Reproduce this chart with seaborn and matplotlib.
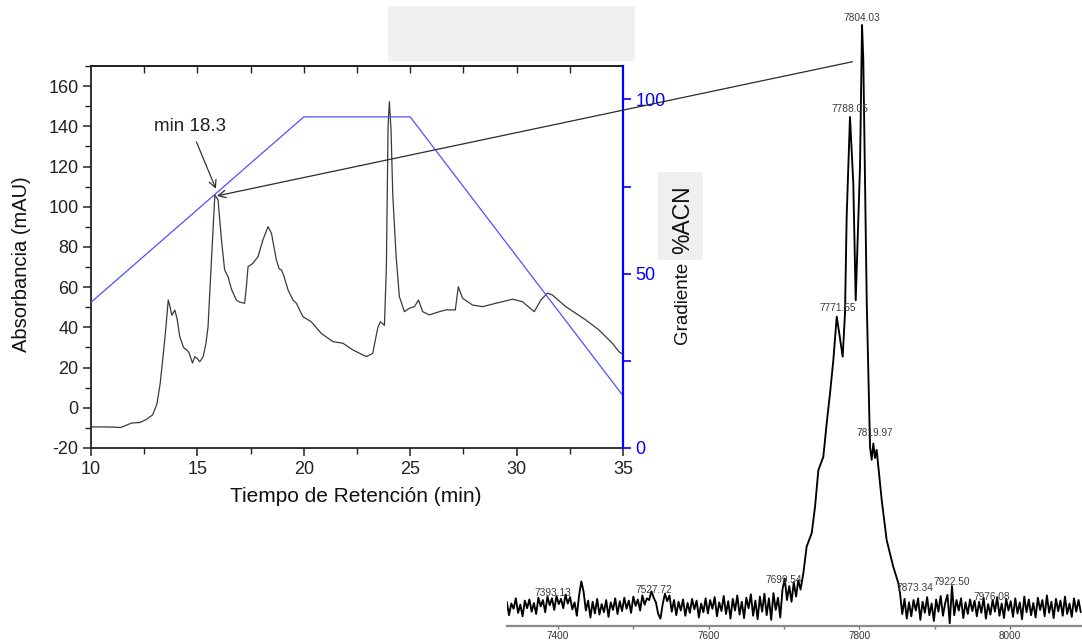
import numpy as np
import pandas as pd
import matplotlib
matplotlib.use("Agg")
import matplotlib.pyplot as plt
import seaborn as sns
from matplotlib.patches import Rectangle
from matplotlib.ticker import MultipleLocator, FixedLocator

# ---------------- Chromatogram (absorbance vs retention time) ----------------
time_min = [10.0, 10.5, 11.0, 11.4, 11.7, 11.9, 12.3, 12.6, 12.9, 13.1, 13.25, 13.4, 13.52,
            13.63, 13.72, 13.8, 13.94, 14.05, 14.17, 14.35, 14.49, 14.6, 14.77, 14.88, 15.0,
            15.11, 15.27, 15.4, 15.5, 15.66, 15.82, 15.97, 16.13, 16.28, 16.44, 16.6, 16.83,
            17.0, 17.22, 17.3, 17.38, 17.5, 17.61, 17.85, 18.08, 18.32, 18.48, 18.71, 18.85,
            18.95, 19.05, 19.26, 19.49, 19.65, 19.96, 20.35, 20.82, 21.37, 21.84, 22.3, 22.77,
            22.95, 23.24, 23.48, 23.6, 23.79, 23.88, 23.96, 24.02, 24.1, 24.18, 24.34, 24.49,
            24.73, 24.96, 25.2, 25.39, 25.59, 25.9, 26.37, 26.68, 27.12, 27.26, 27.46, 27.93,
            28.4, 29.03, 29.81, 30.27, 30.83, 31.14, 31.45, 31.68, 32.31, 33.25, 33.87, 34.5,
            34.81, 35.0]
absorbance = [-9.5, -9.5, -9.6, -9.8, -8.5, -7.6, -7.3, -5.8, -3.5, 2.0, 12.0, 27.0, 40.0,
              53.6, 50.0, 46.0, 48.6, 44.0, 35.4, 30.0, 28.8, 27.5, 22.3, 25.4, 24.5,
              22.9, 25.4, 32.0, 40.3, 73.5, 105.9, 103.4, 83.5, 68.6, 65.2, 59.0, 53.6,
              52.5, 52.0, 60.0, 70.2, 71.0, 71.9, 75.2, 83.5, 90.1, 86.8, 73.5, 69.0,
              68.6, 66.0, 58.6, 53.6, 52.0, 45.3, 42.8, 37.0, 32.9, 32.1, 28.8, 26.3,
              25.5, 27.1, 40.0, 42.8, 41.0, 70.0, 140.0, 152.3, 138.0, 106.0, 75.0, 55.3,
              47.8, 49.5, 50.3, 53.6, 47.8, 46.2, 47.8, 48.7, 48.7, 60.2, 54.5, 51.1,
              50.3, 52.0, 54.0, 52.8, 47.8, 53.6, 57.0, 56.1, 50.3, 43.7, 38.7, 32.1,
              27.9, 26.5]

# ---------------- Gradient (%ACN) ----------------
grad_time = [10.0, 20.0, 25.0, 35.0]
grad_acn = [41.8, 95.0, 95.0, 15.0]

# ---------------- Mass spectrum ----------------
# low-mass baseline (noisy)
mz_low = [7332, 7335, 7338, 7341, 7344, 7347, 7350, 7353, 7356, 7359,
          7362, 7365, 7368, 7371, 7374, 7377, 7380, 7383, 7386, 7389,
          7392, 7395, 7398, 7401, 7404, 7407, 7410, 7413, 7416, 7419,
          7422, 7425, 7428, 7431, 7434, 7437, 7440, 7443, 7446, 7449,
          7452, 7455, 7458, 7461, 7464, 7467, 7470, 7473, 7476, 7479,
          7482, 7485, 7488, 7491, 7494, 7497, 7500, 7503, 7506, 7509,
          7512, 7515, 7518, 7521, 7524, 7527, 7530, 7533, 7536, 7539,
          7542, 7545, 7548, 7551, 7554, 7557, 7560, 7563, 7566, 7569,
          7572, 7575, 7578, 7581, 7584, 7587, 7590, 7593, 7596, 7599,
          7602, 7605, 7608, 7611, 7614, 7617, 7620, 7623, 7626, 7629,
          7632, 7635, 7638, 7641, 7644, 7647, 7650, 7653, 7656, 7659,
          7662, 7665, 7668, 7671, 7674, 7677, 7680, 7683, 7686, 7689,
          7692, 7695, 7698, 7701, 7704, 7707, 7710, 7713, 7716, 7719, 7722]
int_low = [0.9, -1.4, 0.6, -0.3, 1.5, -1.0, 0.4, -1.6, 1.1, -0.2,
           1.3, -0.8, 0.7, -1.2, 1.6, 0.1, 1.2, -0.9, 1.8, 0.3,
           1.5, -0.5, 1.9, 0.5, 1.4, -0.2, 2.1, 0.6, 1.7, -0.4,
           0.8, -1.5, 2.0, 4.4, 2.6, -0.6, 1.1, -1.8, 0.9, -1.1,
           1.4, -1.3, 0.5, -0.9, 1.2, -1.7, 0.8, -0.5, 1.5, -1.2,
           1.0, -0.7, 1.6, -0.3, 1.1, -1.0, 1.8, 0.2, 1.3, -0.6,
           2.0, 0.4, 1.5, 1.2, 2.7, 1.6, 0.8, -1.2, -2.0, 0.5,
           2.3, 1.0, 2.0, -0.8, 1.2, -1.4, 0.9, -0.6, 1.3, -1.5,
           0.7, -1.0, 1.4, -0.4, 1.1, -1.8, 0.6, -0.9, 1.5, -1.1,
           1.2, -0.3, 1.7, -1.6, 0.8, -0.7, 1.9, -1.2, 1.0, -2.0,
           1.4, -0.6, 2.0, -1.3, 0.9, -1.9, 1.6, -0.2, 2.2, -1.5,
           1.1, -2.1, 1.8, -0.8, 2.3, -1.4, 1.5, -2.2, 2.4, -0.5,
           1.6, -1.8, 3.0, 4.9, 1.2, 3.6, 0.9, 4.3, 1.8, 4.6, 3.0]
# main isotope envelope
mz_peak = [7725.7, 7730.1, 7736.8, 7741.2, 7745.6, 7752.2, 7756.7, 7761.1,
           7765.5, 7770.0, 7773.4, 7777.9, 7781.0, 7783.2, 7787.6, 7792.0, 7795.2,
           7800.9, 7803.6, 7805.3, 7809.8, 7814.2, 7816.4, 7818.6, 7820.8, 7823.0,
           7829.7, 7836.3, 7845.1, 7851.8, 7854.0]
int_peak = [5.8, 10.4, 12.7, 17.2, 23.5, 25.8, 31.6, 36.7,
            42.4, 49.9, 47.0, 43.0, 50.5, 67.1, 84.2, 72.8, 52.7,
            75.6, 100.0, 94.0, 52.7, 27.5, 25.3, 28.1, 25.6, 27.0,
            18.4, 11.5, 6.9, 4.1, 2.4]
# high-mass baseline (noisy)
mz_high = [7857, 7860, 7863, 7866, 7869, 7872, 7875, 7878, 7881, 7884,
           7887, 7890, 7893, 7896, 7899, 7902, 7905, 7908, 7911, 7914,
           7917, 7920, 7923, 7926, 7929, 7932, 7935, 7938, 7941, 7944,
           7947, 7950, 7953, 7956, 7959, 7962, 7965, 7968, 7971, 7974,
           7977, 7980, 7983, 7986, 7989, 7992, 7995, 7998, 8001, 8004,
           8007, 8010, 8013, 8016, 8019, 8022, 8025, 8028, 8031, 8034,
           8037, 8040, 8043, 8046, 8049, 8052, 8055, 8058, 8061, 8064,
           8067, 8070, 8073, 8076, 8079, 8082, 8085, 8088, 8091, 8094]
int_high = [-1.2, 1.4, -2.0, 0.8, -1.6, 1.2, -0.6, 1.5, -2.2, 0.9,
            -1.0, 1.7, -1.4, 0.6, -2.4, 1.3, -0.8, 1.9, -1.5, 0.7,
            2.1, -2.8, 3.6, -1.4, 1.2, -0.6, 1.5, -1.9, 0.8, -1.2,
            1.3, -0.7, 1.1, -1.6, 0.9, -1.0, 1.6, -2.0, 0.5, -1.3,
            1.2, -0.8, 1.7, -1.5, 0.6, -1.9, 1.4, -0.6, 1.0, -1.7,
            1.5, -1.1, 0.8, -2.1, 1.8, -0.9, 1.3, -1.4, 0.7, -1.8,
            1.6, -0.5, 1.2, -1.6, 2.0, -1.0, 0.9, -1.9, 1.4, -0.7,
            1.1, -1.5, 1.8, -1.2, 0.6, -1.7, 1.5, -0.8, 1.2, -0.9]

peak_labels = ["7393.13", "7527.72", "7699.54", "7771.55", "7788.05", "7804.03",
               "7819.97", "7873.34", "7922.50", "7976.08"]
peak_label_height = [2.4, 2.9, 4.6, 51.4, 85.6, 101.2, 29.9, 3.3, 4.3, 1.7]

spec_ticks = [7400, 7600, 7800, 8000]

# ---------------- Figure ----------------
sns.set_theme(style="white")
plt.rcParams["font.family"] = ["Liberation Sans", "DejaVu Sans"]
plt.rcParams["axes.unicode_minus"] = False

W, H = 1082, 641
fig = plt.figure(figsize=(W / 100, H / 100), dpi=100)
fig.patch.set_facecolor("white")


def fx(x):
    return x / W


def fy(y):
    return 1 - y / H


# decorative grey boxes
fig.add_artist(Rectangle((fx(388), fy(61)), (635 - 388) / W, 55 / H,
                         transform=fig.transFigure, facecolor="#f0f0f0",
                         edgecolor="none", zorder=0))
fig.add_artist(Rectangle((fx(658), fy(260)), (703 - 658) / W, (260 - 172) / H,
                         transform=fig.transFigure, facecolor="#efefef",
                         edgecolor="none", zorder=0))

# ----- chromatogram axes -----
ax1 = fig.add_axes([fx(91), fy(448), (623 - 91) / W, (448 - 66) / H])
ax1.patch.set_alpha(0)
chrom = pd.DataFrame({"t": time_min, "abs": absorbance})
sns.lineplot(data=chrom, x="t", y="abs", ax=ax1, color="#3a3a3a", lw=0.9,
             estimator=None, sort=False)
ax1.set_xlim(10, 35)
ax1.set_ylim(-20, 170)
ax1.set_xlabel("")
ax1.set_ylabel("")
ax1.xaxis.set_major_locator(MultipleLocator(5))
ax1.xaxis.set_minor_locator(MultipleLocator(2.5))
ax1.yaxis.set_major_locator(FixedLocator([-20, 0, 20, 40, 60, 80, 100, 120, 140, 160]))
ax1.yaxis.set_minor_locator(MultipleLocator(10))
ax1.tick_params(axis="both", which="major", direction="out", length=6, width=1.1,
                colors="#222222", labelsize=13, pad=3, bottom=True, left=True,
                top=False, right=False)
ax1.tick_params(axis="both", which="minor", direction="out", length=4, width=1.0,
                colors="#222222", bottom=True, left=True, top=False, right=False)
for s in ["left", "bottom", "top"]:
    ax1.spines[s].set_color("#222222")
    ax1.spines[s].set_linewidth(1.3)
ax1.spines["right"].set_visible(False)

sec = ax1.secondary_xaxis("top")
sec.set_xticks([12.5, 15, 17.5, 20, 22.5, 25, 27.5, 30, 32.5])
sec.tick_params(direction="in", length=5, width=1.0, colors="#222222",
                labeltop=False, top=True)
sec.spines["top"].set_color("#222222")
sec.spines["top"].set_linewidth(1.3)

# ----- gradient axis -----
ax2 = ax1.twinx()
grad = pd.DataFrame({"t": grad_time, "acn": grad_acn})
sns.lineplot(data=grad, x="t", y="acn", ax=ax2, color="#5050ff", lw=0.9,
             estimator=None, sort=False)
ax2.set_ylim(0, 109.6)
ax2.set_xlim(10, 35)
ax2.set_ylabel("")
ax2.set_xlabel("")
ax2.yaxis.set_major_locator(FixedLocator([0, 50, 100]))
ax2.yaxis.set_minor_locator(FixedLocator([25, 75]))
ax2.tick_params(axis="y", which="both", direction="out", length=6, width=1.2,
                colors="#0000ff", labelsize=13, pad=3, right=True, left=False)
for s in ["left", "bottom", "top"]:
    ax2.spines[s].set_visible(False)
ax2.spines["right"].set_color("#0000ff")
ax2.spines["right"].set_linewidth(1.6)

# annotation min 18.3
ax1.annotate("min 18.3", xy=(15.87, 108.9), xytext=(14.65, 140.0),
             ha="center", va="center", fontsize=13.5, color="#222222",
             arrowprops=dict(arrowstyle="->", color="#333333", lw=0.9,
                             mutation_scale=13, shrinkA=3, shrinkB=0),
             annotation_clip=False)

# axis labels
fig.text(fx(22), fy(264), "Absorbancia (mAU)", rotation=90, ha="center",
         va="center", fontsize=14.5, color="#111111")
fig.text(fx(356), fy(497), "Tiempo de Retención (min)", ha="center", va="center",
         fontsize=15, color="#111111")
fig.text(fx(682), fy(303), "Gradiente", rotation=90, ha="center", va="center",
         fontsize=13.5, color="#111111")
fig.text(fx(683), fy(220), "%ACN", rotation=90, ha="center", va="center",
         fontsize=16.5, color="#111111")

# ----- mass spectrum axes -----
ax3 = fig.add_axes([fx(507), fy(626), (1082 - 507) / W, (626 - 20) / H])
ax3.patch.set_alpha(0)
spec = pd.DataFrame({"mz": mz_low + mz_peak + mz_high,
                     "I": int_low + int_peak + int_high})
sns.lineplot(data=spec, x="mz", y="I", ax=ax3, color="black", lw=1.35,
             estimator=None, sort=False)
ax3.set_xlim(7332.3, 8095.6)
ax3.set_ylim(-3.26, 100.86)
ax3.set_xlabel("")
ax3.set_ylabel("")
ax3.set_yticks([])
ax3.xaxis.set_major_locator(FixedLocator(spec_ticks))
ax3.xaxis.set_minor_locator(FixedLocator([7500, 7700, 7900]))
ax3.tick_params(axis="x", which="both", direction="out", length=2.5, width=1.0,
                colors="#777777", labelsize=7.2, pad=1.0, bottom=True)
for lbl in ax3.get_xticklabels():
    lbl.set_color("#333333")
for s in ["left", "right", "top"]:
    ax3.spines[s].set_visible(False)
ax3.spines["bottom"].set_color("#8a8a8a")
ax3.spines["bottom"].set_linewidth(1.6)

for lab, h in zip(peak_labels, peak_label_height):
    ax3.text(float(lab), h, lab, ha="center", va="center", fontsize=7.3,
             color="#3a3a48")

# connector from chromatogram peak to spectrum
ax3.annotate("", xy=(15.92, 105.4), xycoords=ax1.transData,
             xytext=(fx(852.5), fy(61.7)), textcoords="figure fraction",
             arrowprops=dict(arrowstyle="->", color="#2a2a2a", lw=0.9,
                             mutation_scale=13, shrinkA=0, shrinkB=0),
             annotation_clip=False)

fig.savefig("out.png", dpi=100, facecolor="white")
